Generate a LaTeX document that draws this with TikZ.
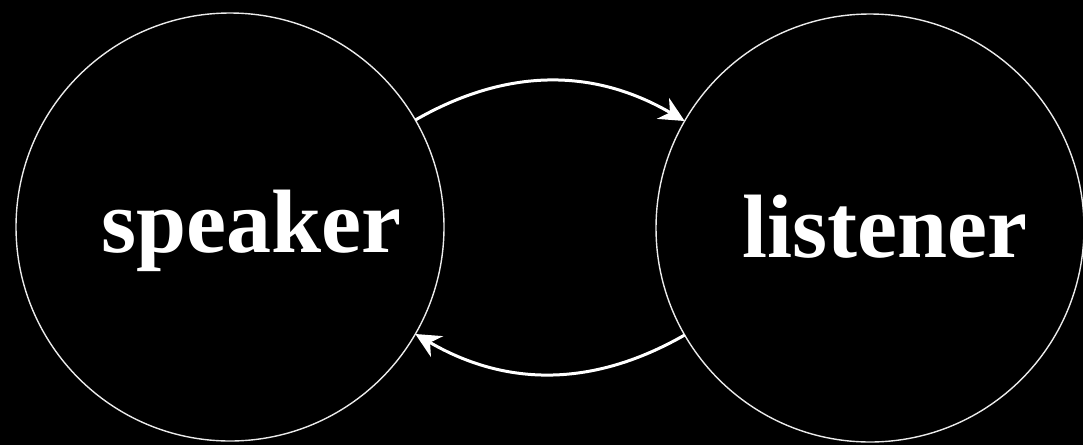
\documentclass[tikz,border=0pt]{standalone}
\usepackage{fontspec}
\setmainfont{Liberation Serif}
\usetikzlibrary{arrows.meta}
\begin{document}
\begin{tikzpicture}[x=1pt,y=-1pt,
  party/.style={circle,draw=white!92!black,line width=1.4pt,minimum size=428pt,inner sep=0pt,outer sep=0pt},
  word/.style={anchor=base,text=white,font=\fontsize{90}{96}\selectfont\bfseries,inner sep=0pt},
  flow/.style={draw=white,line width=3pt,-{Stealth[length=25pt,width=24pt,inset=8pt]}}]
\fill[black] (0,0) rectangle (1083,445);
\useasboundingbox (0,0) rectangle (1083,445);
\node[party] (sp) at (230,227) {};
\node[party] (ls) at (870,228) {};
\node[word] (spt) at (251.5,252) {speaker};
\node[word] (lst) at (885,257) {listener};
\draw[flow] (sp.30) to[bend left=30] (ls.150);
\draw[flow] (ls.210) to[bend left=30] (sp.330);
\end{tikzpicture}
\end{document}
